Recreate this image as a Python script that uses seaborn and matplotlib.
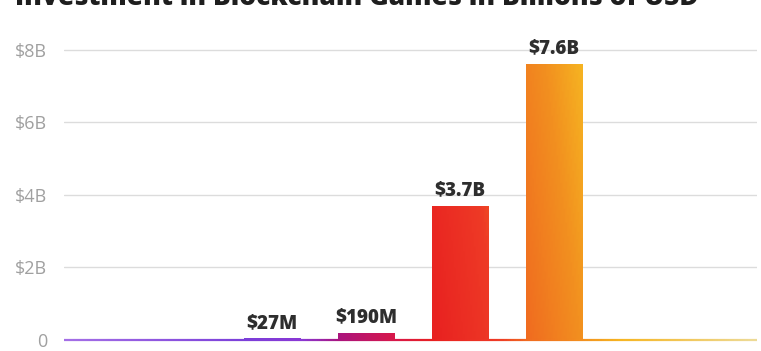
import numpy as np
import pandas as pd
import seaborn as sns
import matplotlib.pyplot as plt
from matplotlib.colors import LinearSegmentedColormap
from matplotlib.collections import LineCollection

# dados do grafico (bilhoes de USD)
anos = ['2016', '2017', '2018', '2019', '2020', '2021', '2022', '2023']
valores = [0, 0, 0.027, 0.19, 3.7, 7.6, 0, 0]
rotulos = ['', '', '$27M', '$190M', '$3.7B', '$7.6B', '', '']
ticks_y = [0, 2, 4, 6, 8]
ticks_txt = ['0', '$2B', '$4B', '$6B', '$8B']

df = pd.DataFrame({'ano': anos, 'valor': valores})

sns.set_style('white')
plt.rcParams['font.family'] = ['Open Sans', 'DejaVu Sans']

fig = plt.figure(figsize=(7.61, 3.51), dpi=100)
ax = fig.add_axes([64 / 761, 11 / 351, 693 / 761, 305 / 351])

sns.barplot(x='ano', y='valor', data=df, order=anos, width=0.6, ax=ax)

x0, x1 = -0.21, 7.16
ax.set_xlim(x0, x1)
ax.set_ylim(0, 8.4)

# gradiente roxo -> vermelho -> laranja -> amarelo
paradas = [(-0.21, '#a46fe6'), (1.7, '#7b3fd9'), (2.3, '#8a38d4'), (2.7, '#aa147e'),
           (3.3, '#d8184a'), (3.7, '#e82020'), (4.4, '#ee3a26'), (4.7, '#f06a20'),
           (5.3, '#f2901f'), (5.7, '#f6b522'), (7.2, '#ecdc9c')]
tmin, tmax = paradas[0][0], paradas[-1][0]
cmap = LinearSegmentedColormap.from_list(
    'grad', [((t - tmin) / (tmax - tmin), c) for t, c in paradas])

gx = np.linspace(x0, x1, 400)
gy = np.linspace(0, 8.4, 200)
GX, GY = np.meshgrid(gx, gy)
T = (GX + 0.05 * GY - tmin) / (tmax - tmin)

for p in ax.patches:
    p.set_facecolor('none')
    p.set_edgecolor('none')
    if p.get_height() <= 0:
        continue
    if p.get_height() < 0.06:
        # barra minuscula: desenha com um pouco mais de espessura
        p.set_height(0.06)
    im = ax.imshow(T, cmap=cmap, vmin=0, vmax=1, origin='lower',
                   extent=[x0, x1, 0, 8.4], aspect='auto', zorder=2)
    im.set_clip_path(p)
ax.set_xlim(x0, x1)
ax.set_ylim(0, 8.4)

# linha de base com gradiente
bx = np.linspace(x0, x1, 300)
pts = np.array([bx, np.zeros_like(bx)]).T.reshape(-1, 1, 2)
segs = np.concatenate([pts[:-1], pts[1:]], axis=1)
lc = LineCollection(segs, colors=cmap((bx[:-1] - tmin) / (tmax - tmin)),
                    linewidths=1.6, zorder=3, clip_on=False)
ax.add_collection(lc)

for i, (v, r) in enumerate(zip(valores, rotulos)):
    if r:
        ax.annotate(r, (i, v), xytext=(0, 4), textcoords='offset points',
                    ha='center', va='bottom', fontsize=13.5, fontweight='heavy',
                    color='#2e2e2e', zorder=4)

for t in ticks_y[1:]:
    ax.axhline(t, color='#dcdcdc', lw=1, zorder=1)

ax.set_yticks(ticks_y)
ax.set_yticklabels(ticks_txt)
ax.tick_params(axis='y', length=0, pad=12, labelsize=13, labelcolor='#a0a0a0')
ax.set_xticks([])
ax.set_xlabel('')
ax.set_ylabel('')
sns.despine(ax=ax, left=True, bottom=True)

fig.text(15 / 761, 1 - 5 / 351, 'Investment in Blockchain Games in Billions of USD',
         fontsize=19, fontweight='heavy', color='#1e1e1e', va='baseline', ha='left')

fig.savefig('out.png', dpi=100)
